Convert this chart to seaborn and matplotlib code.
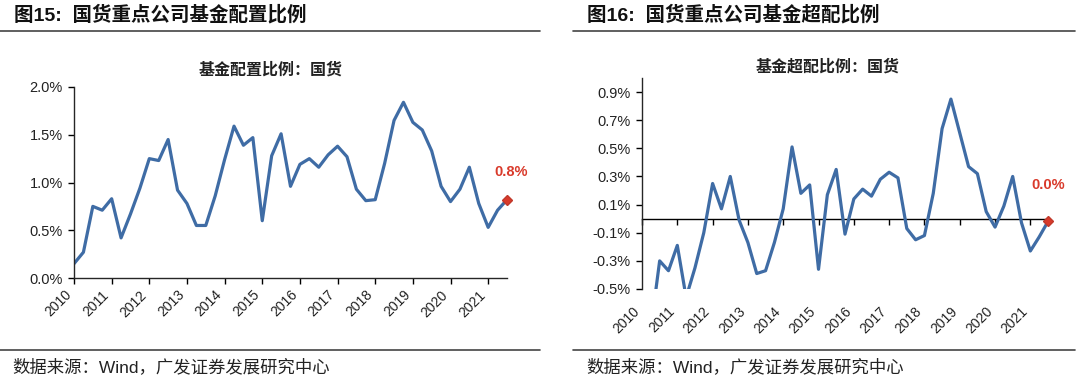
import numpy as np
import pandas as pd
import matplotlib
matplotlib.use("Agg")
import matplotlib.pyplot as plt
import seaborn as sns

# quarterly data, 2010Q1 .. 2021Q3
alloc = [0.15, 0.27, 0.75, 0.71, 0.83, 0.42, 0.67, 0.94, 1.25, 1.23,
         1.45, 0.92, 0.78, 0.55, 0.55, 0.86, 1.24, 1.59, 1.39, 1.47,
         0.60, 1.28, 1.51, 0.96, 1.19, 1.25, 1.16, 1.29, 1.38, 1.27,
         0.93, 0.81, 0.82, 1.20, 1.65, 1.84, 1.63, 1.55, 1.33, 0.96,
         0.80, 0.93, 1.16, 0.78, 0.53, 0.71, 0.82]
over = [-0.89, -0.78, -0.30, -0.37, -0.19, -0.56, -0.35, -0.10, 0.25, 0.07,
        0.30, -0.01, -0.17, -0.39, -0.37, -0.17, 0.07, 0.51, 0.18, 0.24,
        -0.36, 0.17, 0.35, -0.11, 0.14, 0.21, 0.16, 0.28, 0.33, 0.29,
        -0.07, -0.15, -0.12, 0.18, 0.64, 0.85, 0.61, 0.37, 0.32, 0.05,
        -0.06, 0.09, 0.30, -0.03, -0.23, -0.13, -0.02]
years = ["2010", "2011", "2012", "2013", "2014", "2015",
         "2016", "2017", "2018", "2019", "2020", "2021"]

df = pd.DataFrame({"q": np.arange(len(alloc)), "alloc": alloc, "over": over})
year_ticks = df["q"][::4].values

sns.set_theme(style="ticks")
plt.rcParams["font.family"] = ["Liberation Sans", "Noto Sans CJK SC", "DejaVu Sans"]
plt.rcParams["axes.linewidth"] = 1.0

blue = "#3F6CA5"
red = "#D93A2B"
cjk = ["Noto Sans CJK SC", "DejaVu Sans"]
mixed = ["Liberation Sans", "Noto Sans CJK SC", "DejaVu Sans"]

fig = plt.figure(figsize=(10.8, 3.81), dpi=100)

# ---- left panel
ax1 = fig.add_axes([74 / 1080, 1 - 278 / 381, 433 / 1080, 191 / 381])
sns.lineplot(data=df, x="q", y="alloc", ax=ax1, color=blue, linewidth=2.3)
ax1.plot(df["q"].iloc[-1], df["alloc"].iloc[-1], marker="D", color=red,
         markersize=5.5, markeredgecolor="#C0392B", clip_on=False, zorder=5)
ax1.annotate(f"{alloc[-1]:.1f}%", (df["q"].iloc[-1], df["alloc"].iloc[-1]),
             xytext=(3, 20), textcoords="offset points", ha="center", va="center",
             color=red, fontsize=10.5, fontweight="bold")
ax1.set_xlim(0, len(alloc) - 1)
ax1.set_ylim(0, 2.0)
ax1.set_yticks([0, 0.5, 1.0, 1.5, 2.0])
ax1.set_yticklabels([f"{v:.1f}%" for v in [0, 0.5, 1.0, 1.5, 2.0]])
ax1.set_xticks(year_ticks)
ax1.set_xticklabels(years, rotation=45, ha="right")
ax1.tick_params(axis="y", labelsize=10.5, length=4, width=1, colors="#222222", pad=4)
ax1.tick_params(axis="x", labelsize=10, length=4, width=1, colors="#222222", pad=3)
ax1.tick_params(axis="both", color="black")
ax1.set_xlabel("")
ax1.set_ylabel("")
sns.despine(ax=ax1)

# ---- right panel
ax2 = fig.add_axes([642 / 1080, 1 - 289 / 381, 406 / 1080, 211 / 381])
sns.lineplot(data=df, x="q", y="over", ax=ax2, color=blue, linewidth=2.3)
ax2.plot(df["q"].iloc[-1], df["over"].iloc[-1], marker="D", color=red,
         markersize=5.5, markeredgecolor="#C0392B", clip_on=False, zorder=5)
ax2.annotate(f"{abs(over[-1]):.1f}%", (df["q"].iloc[-1], df["over"].iloc[-1]),
             xytext=(0, 26), textcoords="offset points", ha="center", va="center",
             color=red, fontsize=10.5, fontweight="bold")
ax2.set_xlim(0, len(over) - 1)
ax2.set_ylim(-0.5, 1.0)
yt = [-0.5, -0.3, -0.1, 0.1, 0.3, 0.5, 0.7, 0.9]
ax2.set_yticks(yt)
ax2.set_yticklabels([f"{v:.1f}%" for v in yt])
ax2.set_xticks(year_ticks)
ax2.set_xticklabels(years, rotation=45, ha="right")
ax2.tick_params(axis="y", labelsize=10.5, length=4, width=1, colors="#222222", color="black", pad=4)
ax2.tick_params(axis="x", labelsize=10, length=0, colors="#222222", pad=11)
ax2.spines["bottom"].set_visible(False)
ax2.spines["top"].set_visible(False)
ax2.spines["right"].set_visible(False)
ax2.set_xlabel("")
ax2.set_ylabel("")
zero = ax2.secondary_xaxis(0.5 / 1.5)
zero.set_xticks(year_ticks)
zero.set_xticklabels([])
zero.tick_params(axis="x", length=4, width=1, color="black", direction="out")
zero.spines["bottom"].set_color("black")

# ---- titles, rules, source
fig.text(14 / 1080, 1 - 15 / 381, "图15:  国货重点公司基金配置比例", family=mixed,
         fontsize=14, fontweight="bold", va="center", ha="left", color="#111111")
fig.text(587 / 1080, 1 - 15 / 381, "图16:  国货重点公司基金超配比例", family=mixed,
         fontsize=14, fontweight="bold", va="center", ha="left", color="#111111")
fig.text(271 / 1080, 1 - 70 / 381, "基金配置比例：国货", family=cjk,
         fontsize=11.5, fontweight="bold", va="center", ha="center", color="#222222")
fig.text(828 / 1080, 1 - 67 / 381, "基金超配比例：国货", family=cjk,
         fontsize=11.5, fontweight="bold", va="center", ha="center", color="#222222")
fig.text(12 / 1080, 1 - 367 / 381, "数据来源：Wind，广发证券发展研究中心", family=mixed,
         fontsize=12.5, va="center", ha="left", color="#222222")
fig.text(586 / 1080, 1 - 367 / 381, "数据来源：Wind，广发证券发展研究中心", family=mixed,
         fontsize=12.5, va="center", ha="left", color="#222222")

for x0, x1 in [(0, 540), (573, 1075)]:
    for yy in [30.5, 349.5]:
        fig.add_artist(plt.Line2D([x0 / 1080, x1 / 1080], [1 - yy / 381] * 2,
                                  color="#444444", linewidth=1.2))

fig.savefig("out.png", dpi=100)
